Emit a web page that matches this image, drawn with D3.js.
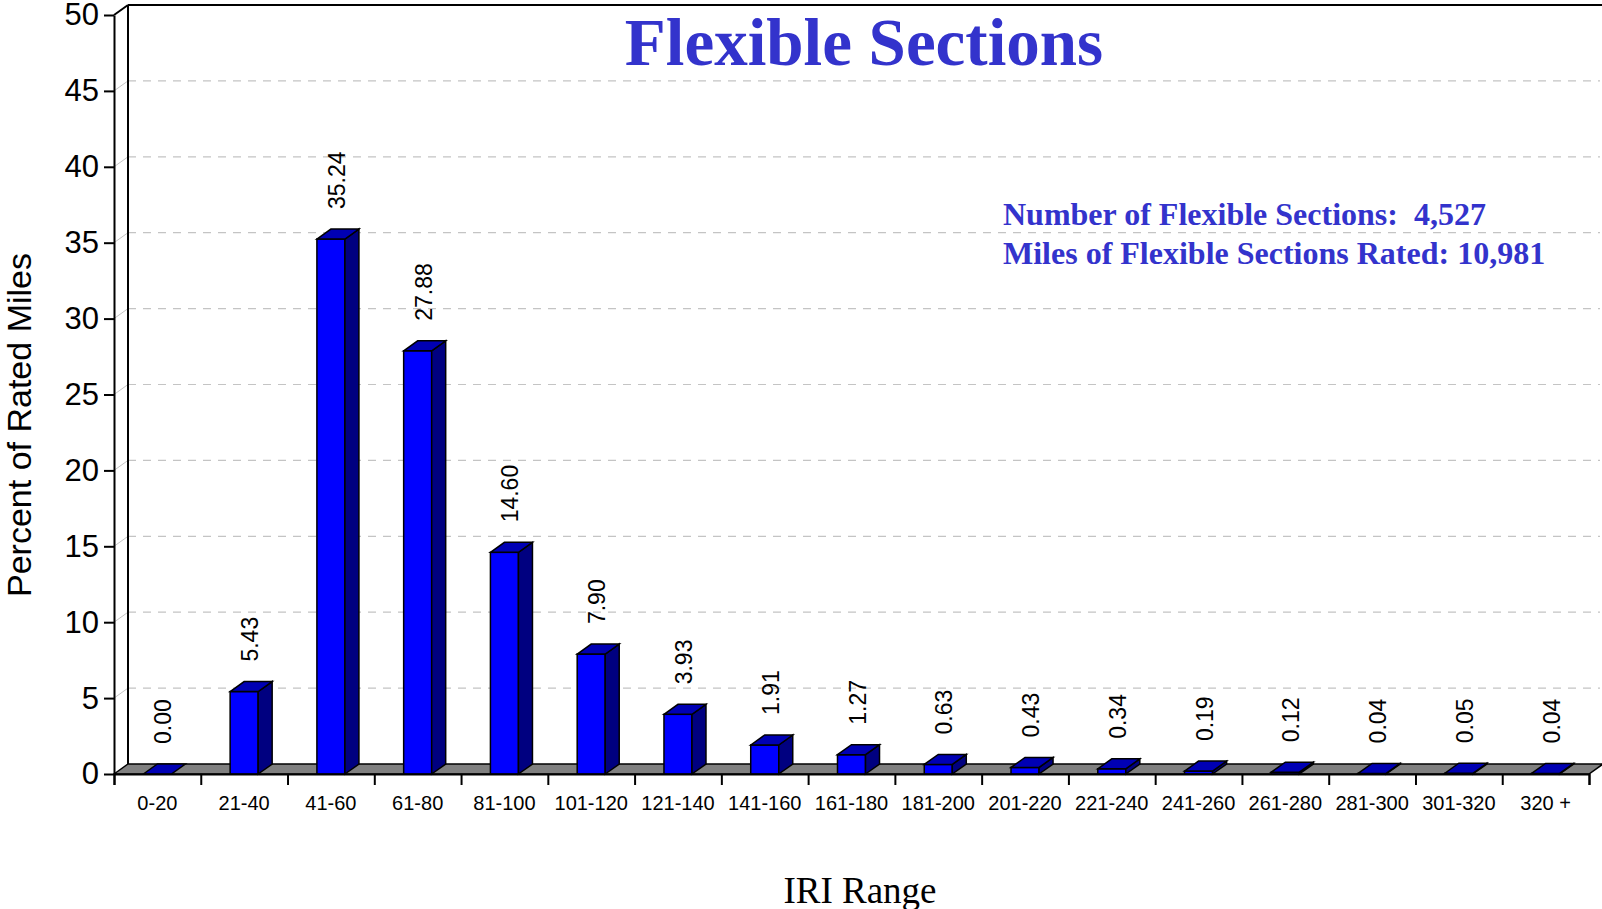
<!DOCTYPE html>
<html>
<head>
<meta charset="utf-8">
<script src="https://cdn.jsdelivr.net/npm/d3@7/dist/d3.min.js"></script>
<style>
  html, body { margin: 0; padding: 0; background: #fff; }
  svg { display: block; }
</style>
</head>
<body>
<svg id="chart" width="1602" height="909"></svg>
<script>
// IRI ranges and percent of rated miles in each range
const categories = ["0-20", "21-40", "41-60", "61-80", "81-100", "101-120", "121-140",
  "141-160", "161-180", "181-200", "201-220", "221-240", "241-260", "261-280",
  "281-300", "301-320", "320 +"];
const percentMiles = [0.00, 5.43, 35.24, 27.88, 14.60, 7.90, 3.93, 1.91, 1.27,
  0.63, 0.43, 0.34, 0.19, 0.12, 0.04, 0.05, 0.04];
const yTicks = [0, 5, 10, 15, 20, 25, 30, 35, 40, 45, 50];
const titleText = "Flexible Sections";
const noteLines = ["Number of Flexible Sections:  4,527", "Miles of Flexible Sections Rated: 10,981"];
const xTitle = "IRI Range";
const yTitle = "Percent of Rated Miles";

const svg = d3.select("#chart");
const sans = "'Liberation Sans', Arial, sans-serif";
const serif = "'Liberation Serif', 'Times New Roman', serif";
const accent = "#3333cc";

// plot geometry
const plotLeft = 114, plotRight = 1589, plotBottom = 774, plotTop = 15;
const dx = 14, dy = -10;        // depth offset of the 3D walls
const bdx = 14, bdy = -10;      // depth offset of each bar

const pad = 0.677;
const x = d3.scaleBand().domain(categories).range([plotLeft, plotRight])
  .paddingInner(pad).paddingOuter(pad / 2);
const xSlot = d3.scaleLinear().domain([0, categories.length]).range([plotLeft, plotRight]);
const y = d3.scaleLinear().domain([0, 50]).range([plotBottom, plotTop]);

// gridlines on the back wall, with the short connectors to the front axis
const grid = svg.append("g");
yTicks.filter(t => t > 0 && t < 50).forEach(t => {
  grid.append("line")
    .attr("x1", plotLeft).attr("y1", y(t)).attr("x2", plotLeft + dx).attr("y2", y(t) + dy)
    .attr("stroke", "#c4c4c4").attr("stroke-width", 1);
  grid.append("line")
    .attr("x1", plotLeft + dx).attr("y1", y(t) + dy).attr("x2", 1600).attr("y2", y(t) + dy)
    .attr("stroke", "#c4c4c4").attr("stroke-width", 1.2)
    .attr("stroke-dasharray", "8,7");
});

// back wall edges
const wall = svg.append("g").attr("stroke", "#000").attr("stroke-width", 2).attr("fill", "none");
wall.append("line").attr("x1", plotLeft + dx).attr("y1", y(0) + dy).attr("x2", plotLeft + dx).attr("y2", y(50) + dy);
wall.append("line").attr("x1", plotLeft + dx).attr("y1", y(50) + dy).attr("x2", 1602).attr("y2", y(50) + dy);
wall.append("line").attr("x1", plotLeft).attr("y1", y(50)).attr("x2", plotLeft + dx).attr("y2", y(50) + dy);

// floor
svg.append("polygon")
  .attr("points", [[plotLeft, y(0)], [plotLeft + dx, y(0) + dy], [plotRight + dx, y(0) + dy], [plotRight, y(0)]].map(p => p.join(",")).join(" "))
  .attr("fill", "#808080").attr("stroke", "#000").attr("stroke-width", 1.5);

// bars
const bars = svg.append("g").selectAll("g").data(percentMiles).join("g");
bars.each(function (v, i) {
  const g = d3.select(this);
  const x0 = x(categories[i]), x1 = x0 + x.bandwidth();
  const y0 = y(0), yt = y(v);
  const pts = a => a.map(p => p.join(",")).join(" ");
  if (y0 - yt > 0.5) {
    g.append("rect").attr("x", x0).attr("y", yt).attr("width", x1 - x0).attr("height", y0 - yt)
      .attr("fill", "#0000ff").attr("stroke", "#000").attr("stroke-width", 1.5);
    g.append("polygon").attr("points", pts([[x1, y0], [x1 + bdx, y0 + bdy], [x1 + bdx, yt + bdy], [x1, yt]]))
      .attr("fill", "#000080").attr("stroke", "#000").attr("stroke-width", 1.5);
  }
  g.append("polygon").attr("points", pts([[x0, yt], [x0 + bdx, yt + bdy], [x1 + bdx, yt + bdy], [x1, yt]]))
    .attr("fill", "#0000b4").attr("stroke", "#000").attr("stroke-width", 1.5);
});

// value labels above each bar
bars.append("text")
  .attr("transform", (v, i) => {
    const cx = x(categories[i]) + x.bandwidth() / 2 + 6;
    const cy = y(v) + bdy - 20;
    return `translate(${cx},${cy}) rotate(-90)`;
  })
  .attr("text-anchor", "start").attr("dominant-baseline", "central")
  .attr("font-family", sans).attr("font-size", 23).attr("fill", "#000")
  .text(v => v.toFixed(2));

// y axis
const yAxis = svg.append("g").attr("transform", `translate(${plotLeft},0)`)
  .call(d3.axisLeft(y).tickValues(yTicks).tickSize(10).tickSizeOuter(0).tickPadding(5));
yAxis.select(".domain").attr("stroke-width", 2);
yAxis.selectAll(".tick line").attr("stroke-width", 2);
yAxis.selectAll("text").attr("font-family", sans).attr("font-size", 31).attr("fill", "#000");

// x axis: ticks at slot boundaries, labels at slot centres
const xTicks = svg.append("g").attr("transform", `translate(0,${plotBottom})`)
  .call(d3.axisBottom(xSlot).tickValues(d3.range(categories.length + 1)).tickSize(11).tickFormat(""));
xTicks.select(".domain").attr("stroke-width", 2);
xTicks.selectAll(".tick line").attr("stroke-width", 2);

const xLabels = svg.append("g").attr("transform", `translate(0,${plotBottom})`)
  .call(d3.axisBottom(x).tickSize(0).tickPadding(22));
xLabels.select(".domain").remove();
xLabels.selectAll("text").attr("font-family", sans).attr("font-size", 20).attr("fill", "#000");

// titles
svg.append("text").attr("x", 864).attr("y", 65).attr("text-anchor", "middle")
  .attr("font-family", serif).attr("font-weight", "bold").attr("font-size", 67)
  .attr("fill", accent).text(titleText);

svg.append("g").selectAll("text").data(noteLines).join("text")
  .attr("x", 1003).attr("y", (d, i) => 225 + i * 39)
  .attr("font-family", serif).attr("font-weight", "bold").attr("font-size", 32)
  .attr("fill", accent).attr("xml:space", "preserve").style("white-space", "pre")
  .text(d => d);

svg.append("text").attr("x", 860).attr("y", 903).attr("text-anchor", "middle")
  .attr("font-family", serif).attr("font-size", 37).attr("fill", "#000").text(xTitle);

svg.append("text").attr("transform", "translate(31,425) rotate(-90)").attr("text-anchor", "middle")
  .attr("font-family", sans).attr("font-size", 34).attr("fill", "#000").text(yTitle);
</script>
</body>
</html>
